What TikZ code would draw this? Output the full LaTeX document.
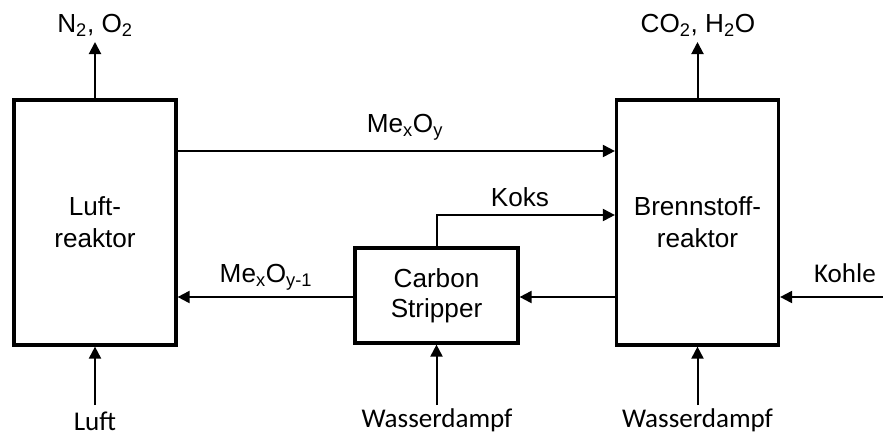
\documentclass[tikz,border=0pt]{standalone}
\usepackage{fontspec}
\setmainfont{Liberation Sans}
\newfontfamily\calfont{Carlito}
\usetikzlibrary{arrows.meta}
\begin{document}
\begin{tikzpicture}[x=0.75pt,y=-0.75pt,
  box/.style={draw,line width=2.4pt,inner sep=0pt,align=center,
    font=\fontsize{19.6}{24}\selectfont},
  bigbox/.style={box,minimum width=121.5pt,minimum height=183.75pt},
  smallbox/.style={box,minimum width=122.25pt,minimum height=71.25pt,font=\fontsize{19.6}{22.5}\selectfont},
  flow/.style={line width=1.5pt,-{Triangle[length=9pt,width=9pt]}},
  lbl/.style={font=\fontsize{19.6}{24}\selectfont,inner sep=0pt,anchor=base},
  lblc/.style={font=\calfont\fontsize{20.3}{24}\selectfont,inner sep=0pt,anchor=base}]
\useasboundingbox (0,0) rectangle (883,436);

% boxes
\node[bigbox] (luft) at (95,222.5) {Luft-\\reaktor};
\node[bigbox] (bren) at (697.5,222.5) {Brennstoff-\\reaktor};
\node[smallbox] (cs) at (436.5,295.5) {Carbon\\Stripper};

% labels
\node[lbl] (n2) at (95,32) {N\textsubscript{2}, O\textsubscript{2}};
\node[lbl] (co2) at (698,32) {CO\textsubscript{2}, H\textsubscript{2}O};
\node[lbl] (meo) at (405,132) {Me\textsubscript{x}O\textsubscript{y}};
\node[lbl] (koks) at (520,206) {Koks};
\node[lbl] (meo1) at (266,282) {Me\textsubscript{x}O\textsubscript{y-1}};
\node[lblc] (kohle) at (845,282) {Kohle};
\node[lblc] (luftin) at (95,430) {Luft};
\node[lblc] (wd1) at (437,427) {Wasserdampf};
\node[lblc] (wd2) at (697.5,427) {Wasserdampf};

% helper coordinates
\coordinate (ytop) at (0,42);
\coordinate (ymo) at (0,151);
\coordinate (ykoks) at (0,215);
\coordinate (ylow) at (0,297);
\coordinate (ybot) at (0,405);
\coordinate (kin) at (883,297);

% connectors
\draw[flow] (luft.north) -- (luft.north |- ytop);
\draw[flow] (bren.north) -- (bren.north |- ytop);
\draw[flow] (luft.east |- ymo) -- (bren.west |- ymo);
\draw[flow] (cs.north) |- (bren.west |- ykoks);
\draw[flow] (cs.west |- ylow) -- (luft.east |- ylow);
\draw[flow] (bren.west |- ylow) -- (cs.east |- ylow);
\draw[flow] (kin) -- (bren.east |- kin);
\draw[flow] (luft.south |- ybot) -- (luft.south);
\draw[flow] (cs.south |- ybot) -- (cs.south);
\draw[flow] (bren.south |- ybot) -- (bren.south);
\end{tikzpicture}
\end{document}
